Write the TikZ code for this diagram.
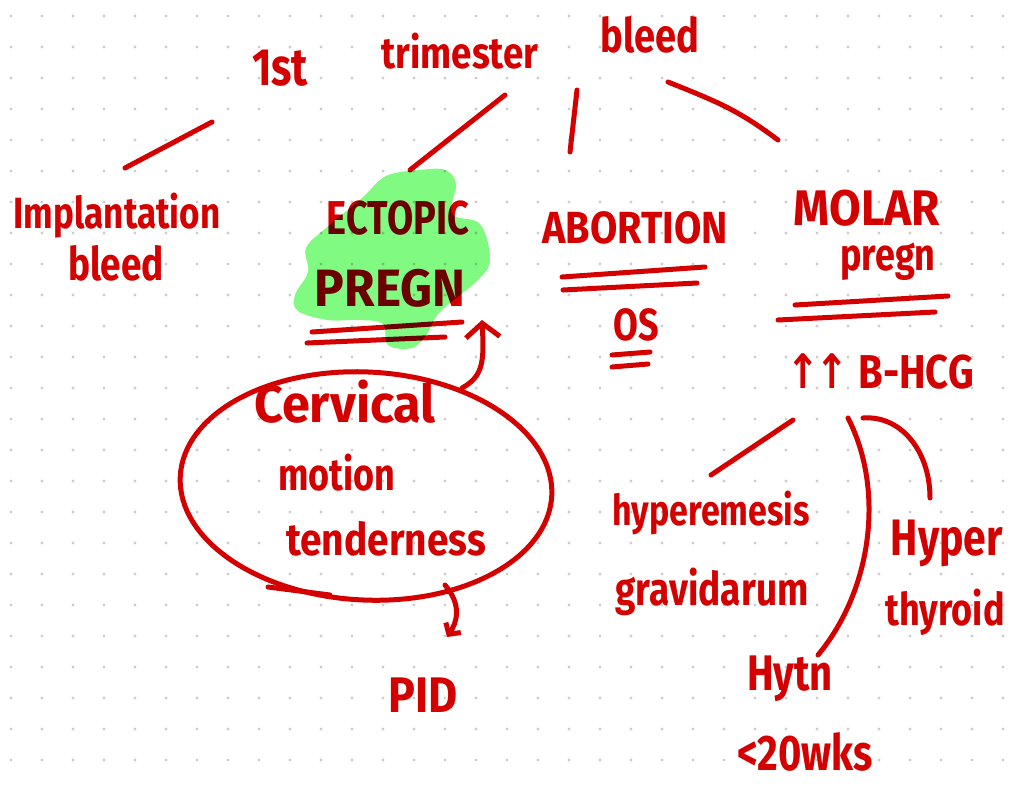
\documentclass[tikz,border=0pt]{standalone}
\usepackage{fontspec}
\setmainfont{Fira Sans}
\newfontfamily\arrowfont{DejaVu Sans}
\usetikzlibrary{arrows.meta,shapes.geometric,calc}
\definecolor{inkred}{RGB}{212,0,0}
\definecolor{hilite}{RGB}{128,250,128}
\definecolor{dotgray}{RGB}{205,205,205}
\tikzset{
  note/.style={text=inkred, anchor=base, inner sep=0pt, yscale=1.25, transform shape,
    font=\bfseries\fontsize{#1}{#1}\selectfont},
  note/.default=36,
  link/.style={draw=inkred, line width=5pt},
  uline/.style={draw=inkred, line width=5pt},
}
\begin{document}
\begin{tikzpicture}[x=1pt, y=-1pt, line join=round, line cap=round]
	\useasboundingbox (0,0) rectangle (1014,785);
	\fill[white] (0,0) rectangle (1014,785);
	\foreach \x in {11,42,...,1014}
	  \foreach \y in {16,47,...,785}
	    \fill[dotgray] (\x,\y) circle (1.6);
	\node[note=42] (first) at (280,85) {1st};
	\node[note=35, xscale=1.05] (trimester) at (460,68) {trimester};
	\node[note=38] (bleedtop) at (650,52) {bleed};
	\node[note=35] (implant) at (117,228) {Implantation};
	\node[note=37] (implantb) at (116,280) {bleed};
	\node[note=38] (ectopic) at (398,234) {ECTOPIC};
	\node[note=42, xscale=1.18] (pregn) at (390,306) {PREGN};
	\node[note=36, xscale=1.1] (abortion) at (635,243) {ABORTION};
	\node[note=36] (os) at (636,340) {OS};
	\node[note=40, xscale=1.15] (molar) at (867,225) {MOLAR};
	\node[note=36] (molarp) at (888,270) {pregn};
	\node[note=38, xscale=1.05] (hcg) at (880,388) {{\arrowfont ↑\kern-4pt↑} B-HCG};
	\node[note=42, xscale=1.2] (cervical) at (345,422) {Cervical};
	\node[note=36] (motion) at (337,490) {motion};
	\node[note=36, xscale=1.08] (tender) at (386,555) {tenderness};
	\node[draw=inkred, line width=5pt, ellipse, minimum width=372, minimum height=228, rotate=-3] (ring) at (366,486) {};
	\node[note=40, xscale=1.12] (pid) at (423,712) {PID};
	\node[note=34] (hyperem) at (711,525) {hyperemesis};
	\node[note=37] (gravid) at (712,605) {gravidarum};
	\node[note=41] (hyper) at (947,555) {Hyper};
	\node[note=36] (thyroid) at (945,625) {thyroid};
	\node[note=40] (hytn) at (790,690) {Hytn};
	\node[note=40] (weeks) at (805,770) {<20wks};
	\draw[link] ([shift={(-68,37)}]first.base) -- ([shift={(8,-60)}]implant.base);
	\draw[link] ([shift={(45,27)}]trimester.base) -- ([shift={(12,-64)}]ectopic.base);
	\draw[link] ([shift={(-73,38)}]bleedtop.base) -- ([shift={(-65,-91)}]abortion.base);
	\draw[link] ([shift={(18,30)}]bleedtop.base) .. controls +(50,20) and +(-40,-30) .. ([shift={(-89,-85)}]molar.base);
	\draw[link] ([shift={(-87,32)}]hcg.base) -- ([shift={(0,-50)}]hyperem.base);
	\draw[link] ([shift={(-32,30)}]hcg.base) .. controls +(37,72) and +(54,-65) .. ([shift={(28,-35)}]hytn.base);
	\draw[link] ([shift={(-17,30)}]hcg.base) .. controls +(37,-3) and +(0,-48) .. ([shift={(-17,-57)}]hyper.base);
	\draw[link, -{Straight Barb[length=14pt, width=34pt]}] ([shift={(96,-98)}]ring.center) .. controls +(22,-12) and +(2,40) .. ([shift={(92,14)}]pregn.base);
	\draw[link, -{Straight Barb[length=8pt, width=18pt]}] ([shift={(79,99)}]ring.center) .. controls +(17,20) and +(10,-15) .. ([shift={(24,-75)}]pid.base);
	\draw[uline] ([shift={(-98,101)}]ring.center) -- ([shift={(-36,109)}]ring.center);
	\draw[uline] ([shift={(-78,26)}]pregn.base) -- ([shift={(72,16)}]pregn.base);
	\draw[uline] ([shift={(-83,37)}]pregn.base) -- ([shift={(55,31)}]pregn.base);
	\draw[uline] ([shift={(-73,34)}]abortion.base) -- ([shift={(70,24)}]abortion.base);
	\draw[uline] ([shift={(-72,47)}]abortion.base) -- ([shift={(62,40)}]abortion.base);
	\draw[uline] ([shift={(-24,15)}]os.base) -- ([shift={(14,12)}]os.base);
	\draw[uline] ([shift={(-24,27)}]os.base) -- ([shift={(12,24)}]os.base);
	\draw[uline] ([shift={(-93,35)}]molarp.base) -- ([shift={(60,26)}]molarp.base);
	\draw[uline] ([shift={(-110,50)}]molarp.base) -- ([shift={(47,42)}]molarp.base);
	\fill[hilite, blend mode=multiply] plot[smooth cycle, tension=0.6] coordinates {
	  (445,170) (456,184) (452,214) (480,224) (490,258) (480,278) (440,312) (427,334)
	  (412,348) (388,345) (383,324) (360,320) (328,320) (298,311) (295,295) (308,272)
	  (306,248) (326,228) (362,198) (386,176) (420,170)};
\end{tikzpicture}
\end{document}
